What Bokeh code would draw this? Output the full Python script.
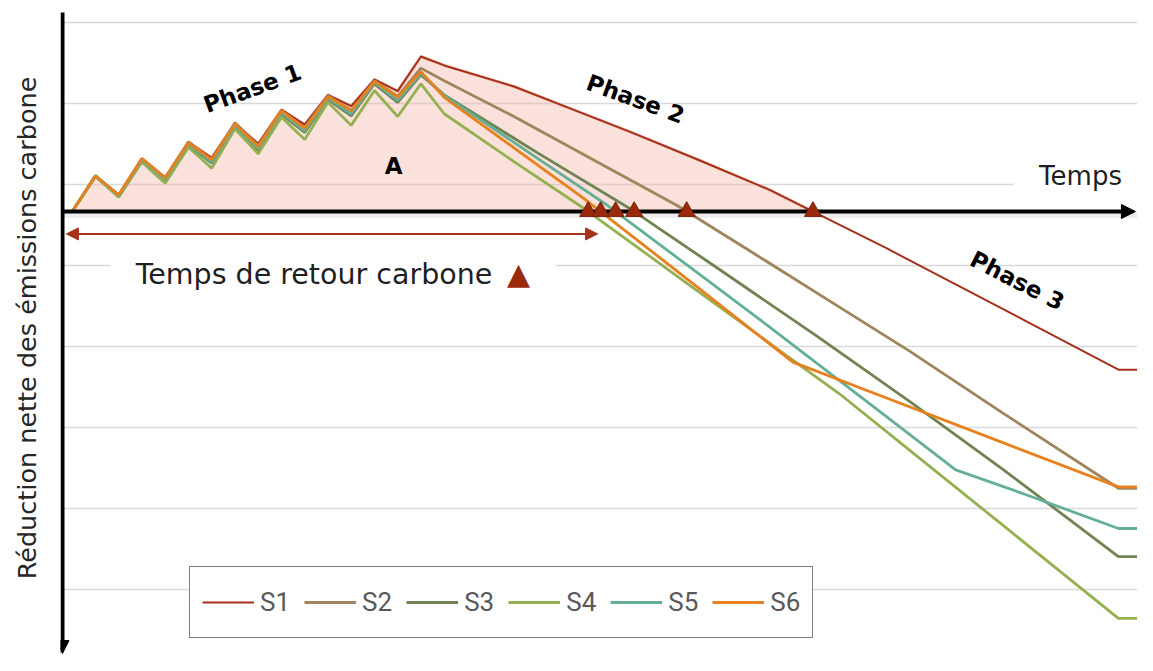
import numpy as np
from bokeh.plotting import figure
from bokeh.models import (Range1d, Label, Arrow, NormalHead, BoxAnnotation, FixedTicker,
                          Legend, LegendItem, Span)
from bokeh.embed import file_html
from bokeh.resources import INLINE

# ---------------- data ----------------
series_names = ["S1", "S2", "S3", "S4", "S5", "S6"]
series_colors = ["#A5311A", "#A0845C", "#6F8452", "#94B051", "#66AF97", "#E7811E"]

t_phase1 = list(range(16))
s1_p1 = [0, 13.0, 6.3, 19.5, 12.7, 25.7, 19.9, 32.7, 25.1, 37.7, 32.2, 43.2, 39.0, 48.9, 44.6, 57.4]
s2_p1 = [0, 13.0, 6.0, 19.6, 12.2, 25.8, 19.0, 32.9, 24.3, 37.4, 31.0, 42.9, 37.4, 48.5, 42.6, 53.1]
s3_p1 = [0, 13.2, 5.7, 19.0, 11.5, 24.6, 17.9, 31.4, 22.8, 36.0, 29.3, 41.4, 35.4, 47.3, 40.4, 50.6]
s4_p1 = [0, 13.0, 5.3, 18.3, 10.5, 23.8, 16.0, 30.6, 21.4, 34.9, 26.7, 40.5, 31.9, 44.8, 35.2, 47.3]
s5_p1 = [0, 13.3, 5.9, 19.2, 11.9, 25.0, 18.4, 31.8, 23.3, 36.6, 29.9, 42.0, 36.2, 47.8, 41.2, 51.2]
s6_p1 = [0, 13.2, 6.1, 19.6, 12.4, 25.4, 19.2, 32.4, 24.0, 37.3, 30.8, 42.5, 37.4, 48.2, 42.4, 51.8]

s1_t = t_phase1 + [16, 19, 21, 24, 27, 30, 32, 35, 38, 41, 45, 46]
s1_v = s1_p1 + [54.1, 46.3, 39.6, 29.5, 18.9, 8.0, -0.6, -13.5, -27.0, -40.5, -58.6, -58.6]

s2_t = t_phase1 + [16, 19, 23, 26, 29, 33, 36, 40, 45, 46]
s2_v = s2_p1 + [48.4, 35.2, 16.4, 2.3, -13.8, -35.4, -51.6, -74.5, -102.5, -102.5]

s3_t = t_phase1 + [16, 20, 24, 28, 32, 36, 40, 45, 46]
s3_v = s3_p1 + [43.2, 21.8, 1.0, -22.4, -46.0, -70.2, -95.3, -127.8, -127.8]

s4_t = t_phase1 + [16, 19, 22, 26, 30, 33, 36, 40, 45, 46]
s4_v = s4_p1 + [36.2, 18.5, 1.2, -23.8, -48.8, -67.5, -88.3, -116.0, -150.7, -150.7]

s5_t = t_phase1 + [16, 20, 23, 27, 30, 34, 38, 41, 45, 46]
s5_v = s5_p1 + [43.0, 19.8, 2.4, -23.4, -42.8, -69.2, -95.7, -104.8, -117.4, -117.4]

s6_t = t_phase1 + [16, 19, 22, 26, 31, 35, 40, 45, 46]
s6_v = s6_p1 + [42.3, 23.6, 4.9, -22.0, -55.8, -69.0, -85.5, -102.0, -102.0]

grid_values = [70, 40, 10, -20, -50, -80, -110, -140]

all_t = [s1_t, s2_t, s3_t, s4_t, s5_t, s6_t]
all_v = [s1_v, s2_v, s3_v, s4_v, s5_v, s6_v]


def crossing(ts, vs):
    ts = np.asarray(ts, float)
    vs = np.asarray(vs, float)
    i = np.where((vs[:-1] > 0) & (vs[1:] <= 0))[0][0]
    tc = ts[i] + vs[i] / (vs[i] - vs[i + 1]) * (ts[i + 1] - ts[i])
    return i, tc


# ---------------- figure ----------------
p = figure(width=1137, height=655, output_backend="svg", toolbar_location=None,
           x_range=Range1d(-0.503, 45.82), y_range=Range1d(-164.44, 78.15),
           min_border_left=60, min_border_right=0, min_border_top=0, min_border_bottom=0)
p.outline_line_color = None
p.background_fill_color = "white"
p.xaxis.visible = False
p.xgrid.visible = False

p.yaxis.ticker = FixedTicker(ticks=[])
p.yaxis.axis_line_color = None
p.yaxis.major_tick_line_color = None
p.yaxis.minor_tick_line_color = None
p.yaxis.axis_label = "Réduction nette des émissions carbone"
p.yaxis.axis_label_text_font = "DejaVu Sans"
p.yaxis.axis_label_text_font_size = "25.5px"
p.yaxis.axis_label_text_font_style = "normal"
p.yaxis.axis_label_text_color = "#262626"
p.yaxis.axis_label_standoff = 19

p.ygrid.ticker = FixedTicker(ticks=grid_values)
p.ygrid.grid_line_color = "#D9D9D9"
p.ygrid.grid_line_width = 1.5

# area A under S1 (positive part)
i1, tc1 = crossing(s1_t, s1_v)
fill_t = list(s1_t[:i1 + 1]) + [tc1]
fill_v = list(s1_v[:i1 + 1]) + [0]
p.varea(x=fill_t, y1=[0] * len(fill_t), y2=fill_v, fill_color="#F4B4A4", fill_alpha=0.4)
p.line(fill_t, fill_v, line_color="#F2B0A0", line_width=3, line_alpha=0.8)

renderers = []
for k in range(6):
    lw = 2 if k == 0 else 2.8
    r = p.line(all_t[k], all_v[k], line_color=series_colors[k], line_width=lw)
    renderers.append(r)

# white boxes behind the labels
p.add_layout(BoxAnnotation(left=1.65, right=20.79, bottom=-31.5, top=-15.2,
                           fill_color="white", fill_alpha=1.0, line_color=None))
p.add_layout(BoxAnnotation(left=40.49, right=45.95, bottom=4.1, top=18.9,
                           fill_color="white", fill_alpha=1.0, line_color=None))

# axes as arrows
p.add_layout(Span(location=-1.3, dimension="width", line_color="black",
                  line_alpha=0.07, line_width=6))
p.add_layout(Arrow(x_start=-0.417, y_start=0, x_end=45.73, y_end=0,
                   line_color="black", line_width=4,
                   end=NormalHead(size=14, fill_color="black", line_color="black")))
p.add_layout(Arrow(x_start=-0.417, y_start=73.7, x_end=-0.417, y_end=-163.7,
                   line_color="black", line_width=4,
                   end=NormalHead(size=13, fill_color="black", line_color="black")))

# payback-time arrow
p.add_layout(Arrow(x_start=-0.25, y_start=-8.3, x_end=22.6, y_end=-8.3,
                   line_color="#A5311A", line_width=2,
                   start=NormalHead(size=12, fill_color="#A5311A", line_color="#A5311A"),
                   end=NormalHead(size=12, fill_color="#A5311A", line_color="#A5311A")))

# crossing markers
cross_t = [crossing(all_t[k], all_v[k])[1] for k in range(6)]
tri = p.scatter(x=cross_t, y=[0] * 6, marker="triangle", size=17,
                fill_color="#9B2A0C", line_color="#7A1E08", line_width=1)
tri.level = "overlay"

# texts
bold_font = "DejaVu Sans"
p.add_layout(Label(x=7.75, y=45.6, text="Phase 1", angle=20, angle_units="deg",
                   text_align="center", text_baseline="middle", text_font=bold_font,
                   text_font_style="bold", text_font_size="23px", text_color="black"))
p.add_layout(Label(x=24.23, y=41.7, text="Phase 2", angle=-20, angle_units="deg",
                   text_align="center", text_baseline="middle", text_font=bold_font,
                   text_font_style="bold", text_font_size="23px", text_color="black"))
p.add_layout(Label(x=40.65, y=-25.6, text="Phase 3", angle=-27, angle_units="deg",
                   text_align="center", text_baseline="middle", text_font=bold_font,
                   text_font_style="bold", text_font_size="23px", text_color="black"))
p.add_layout(Label(x=13.83, y=16.7, text="A", text_align="center", text_baseline="middle",
                   text_font=bold_font, text_font_style="bold", text_font_size="23px",
                   text_color="black"))
p.add_layout(Label(x=43.37, y=13.0, text="Temps", text_align="center", text_baseline="middle",
                   text_font="DejaVu Sans", text_font_size="26px", text_color="#1F1F1F"))
p.add_layout(Label(x=10.4, y=-23.3, text="Temps de retour carbone", text_align="center",
                   text_baseline="middle", text_font="DejaVu Sans", text_font_size="28.5px",
                   text_color="#1F1F1F"))
p.add_layout(Label(x=19.2, y=-23.0, text="▲", text_align="center", text_baseline="middle",
                   text_font="DejaVu Sans", text_font_size="30px", text_color="#9B2A0C"))

# legend
legend = Legend(items=[LegendItem(label=series_names[k], renderers=[renderers[k]]) for k in range(6)],
                location=(129, 17), orientation="horizontal",
                border_line_color="black", border_line_width=1,
                background_fill_color="white", background_fill_alpha=1.0,
                padding=12, spacing=14, margin=0,
                glyph_width=52, glyph_height=46, label_height=46, label_width=24,
                label_standoff=6, label_text_font="'Liberation Sans Narrow', Roboto",
                label_text_font_size="26px", label_text_color="#595959")
p.add_layout(legend)

open("out.html", "w").write(file_html(p, INLINE))
